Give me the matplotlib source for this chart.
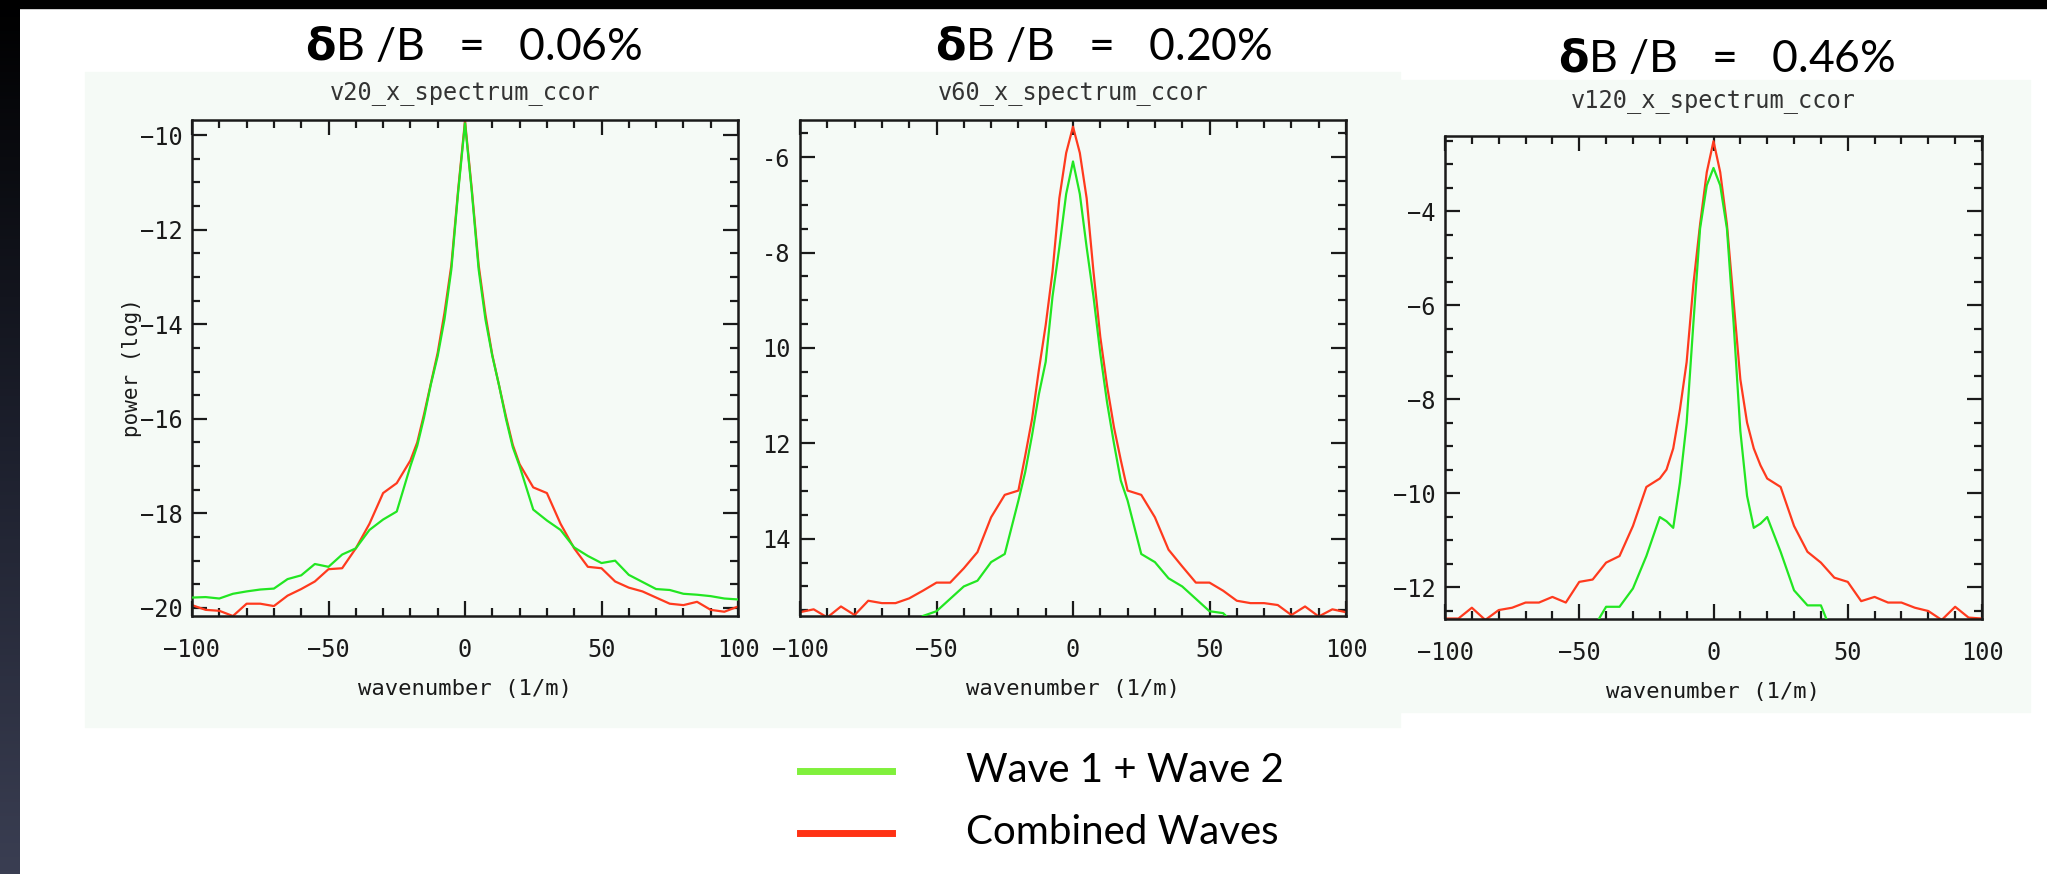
import numpy as np
import matplotlib.pyplot as plt
from matplotlib.ticker import MultipleLocator, FixedLocator, FixedFormatter
from matplotlib.colors import LinearSegmentedColormap

# wavenumber grid (1/m)
k = [-100, -95, -90, -85, -80, -75, -70, -65, -60, -55, -50, -45, -40, -35, -30, -25,
     -20, -17.5, -15, -12.5, -10, -7.5, -5, -2.5, 0, 2.5, 5, 7.5, 10, 12.5, 15, 17.5,
     20, 25, 30, 35, 40, 45, 50, 55, 60, 65, 70, 75, 80, 85, 90, 95, 100]

# v20 : dB/B = 0.06%
v20_sum = [-19.78, -19.77, -19.80, -19.70, -19.65, -19.61, -19.59, -19.39, -19.31, -19.07,
           -19.13, -18.87, -18.74, -18.35, -18.13, -17.96, -17.00, -16.57, -15.97, -15.27,
           -14.67, -13.89, -12.84, -11.20, -9.75, -11.20, -12.84, -13.90, -14.67, -15.30,
           -16.00, -16.60, -17.00, -17.92, -18.15, -18.35, -18.72, -18.90, -19.05, -19.00,
           -19.30, -19.45, -19.60, -19.62, -19.70, -19.72, -19.75, -19.80, -19.82]
v20_comb = [-19.94, -20.04, -20.06, -20.17, -19.91, -19.91, -19.96, -19.74, -19.60, -19.44,
            -19.18, -19.16, -18.74, -18.22, -17.57, -17.36, -16.88, -16.50, -15.90, -15.25,
            -14.60, -13.75, -12.75, -11.15, -9.70, -11.15, -12.75, -13.80, -14.65, -15.30,
            -15.95, -16.55, -16.96, -17.45, -17.57, -18.22, -18.74, -19.13, -19.16, -19.44,
            -19.57, -19.65, -19.78, -19.91, -19.94, -19.87, -20.04, -20.08, -19.97]

# v60 : dB/B = 0.20%
v60_sum = [-17.00, -16.90, -16.80, -16.60, -16.50, -16.30, -16.20, -16.00, -15.85, -15.62,
           -15.52, -15.26, -15.00, -14.88, -14.49, -14.32, -13.20, -12.60, -11.83, -10.97,
           -10.29, -8.92, -7.89, -6.77, -6.09, -6.77, -7.89, -8.92, -10.12, -11.15,
           -12.00, -12.78, -13.20, -14.32, -14.49, -14.83, -15.00, -15.26, -15.52, -15.56,
           -15.85, -16.00, -16.20, -16.30, -16.50, -16.60, -16.80, -16.90, -17.00]
v60_comb = [-15.54, -15.48, -15.65, -15.42, -15.60, -15.30, -15.35, -15.35, -15.25, -15.09,
            -14.92, -14.92, -14.62, -14.28, -13.55, -13.08, -12.99, -12.26, -11.49, -10.46,
            -9.52, -8.40, -6.86, -5.91, -5.36, -5.91, -6.86, -8.40, -9.77, -10.80,
            -11.66, -12.35, -12.99, -13.08, -13.55, -14.23, -14.58, -14.92, -14.92, -15.09,
            -15.30, -15.35, -15.35, -15.39, -15.60, -15.42, -15.63, -15.48, -15.54]

# v120 : dB/B = 0.46%
v120_sum = [-15.0, -14.9, -14.8, -14.6, -14.4, -14.2, -14.0, -13.8, -13.6, -13.4,
            -13.2, -12.9, -12.42, -12.42, -12.03, -11.34, -10.51, -10.60, -10.74, -9.78,
            -8.50, -6.39, -4.37, -3.45, -3.08, -3.45, -4.37, -6.39, -8.68, -10.06,
            -10.74, -10.65, -10.51, -11.25, -12.07, -12.39, -12.39, -13.1, -13.4, -13.6,
            -13.8, -14.0, -14.2, -14.4, -14.6, -14.7, -14.8, -14.9, -15.0]
v120_comb = [-12.67, -12.67, -12.44, -12.70, -12.49, -12.44, -12.33, -12.33, -12.21, -12.33,
             -11.89, -11.84, -11.48, -11.34, -10.70, -9.87, -9.69, -9.50, -9.05, -8.22,
             -7.21, -5.56, -4.28, -3.17, -2.51, -3.17, -4.28, -5.93, -7.58, -8.50,
             -9.05, -9.41, -9.69, -9.87, -10.70, -11.25, -11.48, -11.80, -11.89, -12.30,
             -12.21, -12.33, -12.33, -12.44, -12.51, -12.70, -12.42, -12.65, -12.67]

headers = ["0.06%", "0.20%", "0.46%"]
names = ["v20_x_spectrum_ccor", "v60_x_spectrum_ccor", "v120_x_spectrum_ccor"]
sums = [v20_sum, v60_sum, v120_sum]
combs = [v20_comb, v60_comb, v120_comb]
ylims = [(-20.17, -9.68), (-15.62, -5.22), (-12.68, -2.40)]
yticks = [[-20, -18, -16, -14, -12, -10], [-14, -12, -10, -8, -6], [-12, -10, -8, -6, -4]]
ylabels = [["\u221220", "\u221218", "\u221216", "\u221214", "\u221212", "\u221210"],
           ["14", "12", "10", "-8", "-6"],
           ["\u221212", "\u221210", "\u22128", "\u22126", "\u22124"]]

W, H = 2047, 874
# axes boxes in pixels: left, right, top, bottom
boxes = [(192, 738, 120, 616), (800, 1346, 120, 616), (1445, 1982, 136, 619)]
title_pos = [(474, 48), (1104, 48), (1727, 59)]
sub_pad = [15, 15, 21]
panel_bg = [(85, 1400, 72, 727), (1400, 2030, 80, 712)]

c_green = "#22e622"
c_red = "#ff3a1e"
bgc = "#f5faf6"
idl = "DejaVu Sans Mono"

fig = plt.figure(figsize=(W / 100, H / 100), dpi=100)
fig.patch.set_facecolor("white")

# backdrop: dark frame on top and left, pale panels behind the plots
back = fig.add_axes([0, 0, 1, 1], zorder=-10)
back.axis("off")
cm = LinearSegmentedColormap.from_list("edge", ["#000000", "#1c1f2c", "#3a3e52"])
back.imshow(np.linspace(0, 1, 256).reshape(-1, 1), aspect="auto", cmap=cm,
            extent=[0, 20, H, 0])
back.add_patch(plt.Rectangle((0, 0), W, 8, color="black"))
for (x0, x1, y0, y1) in panel_bg:
    back.add_patch(plt.Rectangle((x0, y0), x1 - x0, y1 - y0, color=bgc))
back.set_xlim(0, W)
back.set_ylim(H, 0)

for i in range(3):
    l, r, t, b = boxes[i]
    ax = fig.add_axes([l / W, 1 - b / H, (r - l) / W, (b - t) / H])
    ax.set_facecolor(bgc)
    ax.plot(k, sums[i], color=c_green, lw=1.6, zorder=3)
    ax.plot(k, combs[i], color=c_red, lw=1.6, zorder=2)
    ax.set_xlim(-100, 100)
    ax.set_ylim(*ylims[i])
    ax.xaxis.set_minor_locator(MultipleLocator(10))
    ax.yaxis.set_major_locator(FixedLocator(yticks[i]))
    ax.yaxis.set_major_formatter(FixedFormatter(ylabels[i]))
    ax.yaxis.set_minor_locator(MultipleLocator(0.5))
    ax.set_xticks([-100, -50, 0, 50, 100])
    ax.set_xticklabels(["\u2212100", "\u221250", "0", "50", "100"])
    ax.tick_params(which="both", direction="in", top=True, right=True, width=1.6,
                   colors="#1a1a1a", labelsize=17)
    ax.tick_params(axis="y", pad=7)
    ax.tick_params(axis="x", pad=16)
    ax.tick_params(which="major", length=11)
    ax.tick_params(which="minor", length=6)
    for lab in ax.get_xticklabels() + ax.get_yticklabels():
        lab.set_fontfamily(idl)
    for s in ax.spines.values():
        s.set_linewidth(1.8)
        s.set_color("#1a1a1a")
    ax.set_xlabel("wavenumber (1/m)", fontsize=16, color="#1a1a1a", labelpad=12,
                  family=idl)
    if i == 0:
        ax.set_ylabel("power (log)", fontsize=15, color="#1a1a1a", labelpad=-2,
                      family=idl)
    ax.set_title(names[i], fontsize=17, color="#333333", pad=sub_pad[i], family=idl)
    tx, ty = title_pos[i]
    fig.text(tx / W, 1 - ty / H, r"$\mathbf{\delta}$" + "B /B   =   " + headers[i],
             ha="center", va="center", fontsize=32, family="Lato")

# legend below the panels
legend_rows = [("Wave 1 + Wave 2", "#80f03c"), ("Combined Waves", "#ff3214")]
for j, (txt, col) in enumerate(legend_rows):
    y = 1 - (771 + 62 * j) / H
    fig.add_artist(plt.Line2D([800 / W, 892 / W], [y, y], color=col, lw=5,
                              transform=fig.transFigure))
    fig.text(966 / W, y, txt, ha="left", va="center", fontsize=29, family="Lato")

fig.savefig("out.png", dpi=100, facecolor="white")
